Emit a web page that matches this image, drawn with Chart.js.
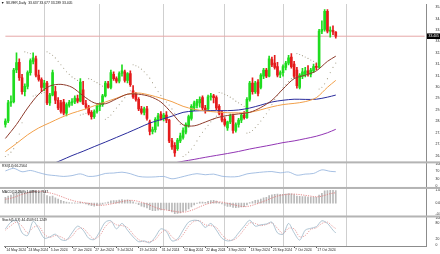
<!DOCTYPE html>
<html>
<head>
<meta charset="utf-8">
<script src="https://cdn.jsdelivr.net/npm/chart.js@4.4.1/dist/chart.umd.min.js"></script>
<style>
  html, body { margin: 0; padding: 0; background: #fff; }
  #chart { display: block; }
</style>
</head>
<body>
<canvas id="chart" width="440" height="254"></canvas>
<script>
// ---- data ----
const slotCount = 152; // bar slots incl. the empty space on the right
const dateTicks = ['14 May 2024', '24 May 2024', '5 Jun 2024', '17 Jun 2024', '27 Jun 2024', '9 Jul 2024',
  '19 Jul 2024', '31 Jul 2024', '12 Aug 2024', '22 Aug 2024', '3 Sep 2024', '13 Sep 2024', '25 Sep 2024',
  '7 Oct 2024', '17 Oct 2024'];
const tickEvery = 8;
const monthStarts = [14, 34, 57, 79, 100, 123];

const opens = [28.30, 28.50, 29.55, 29.62, 31.45, 31.90, 31.00, 30.20, 30.50, 31.30,
  31.95, 32.10, 31.15, 30.90, 30.45, 30.70, 29.55, 30.00, 30.20, 29.70,
  29.55, 29.60, 28.95, 29.40, 29.55, 29.60, 29.80, 29.65, 30.30, 29.50,
  29.30, 29.00, 28.75, 29.05, 29.35, 29.45, 29.95, 30.65, 30.45, 31.20,
  30.95, 30.80, 31.25, 31.35, 30.85, 31.25, 30.25, 30.05, 29.75, 29.20,
  29.00, 29.20, 28.45, 27.90, 28.00, 28.55, 28.90, 28.65, 28.85, 28.55,
  27.35, 27.10, 26.90, 27.35, 27.55, 27.85, 28.25, 28.65, 29.25, 29.40,
  29.55, 29.85, 29.25, 29.20, 29.90, 29.95, 29.85, 29.35, 28.95, 28.60,
  28.10, 28.45, 28.80, 27.95, 28.30, 28.55, 28.85, 28.70, 29.75, 30.70,
  30.20, 30.75, 30.45, 31.10, 31.45, 31.10, 32.05, 31.85, 31.65, 31.20,
  31.30, 31.60, 31.85, 32.20, 31.80, 31.45, 30.45, 31.10, 31.20, 31.40,
  31.20, 31.40, 31.65, 31.60, 33.70, 33.80, 34.85, 33.70, 33.75, 33.637];
const highs = [28.62, 29.70, 29.95, 31.55, 32.45, 32.10, 31.20, 30.65, 31.40, 32.10,
  32.45, 32.25, 31.45, 31.00, 30.85, 30.80, 30.10, 31.45, 30.50, 29.85,
  29.70, 29.75, 29.55, 29.70, 29.80, 29.95, 30.00, 30.95, 30.80, 29.70,
  29.40, 29.10, 29.15, 29.45, 29.55, 30.05, 30.80, 30.80, 31.45, 31.35,
  31.05, 31.35, 31.75, 31.45, 31.30, 31.40, 30.55, 30.15, 29.85, 29.35,
  29.30, 29.35, 28.55, 28.15, 28.70, 28.95, 29.05, 28.95, 29.05, 28.60,
  27.50, 27.25, 27.50, 27.80, 28.10, 28.40, 28.85, 29.45, 29.65, 29.75,
  29.90, 29.95, 29.40, 30.00, 30.10, 30.05, 29.95, 29.45, 29.10, 28.70,
  28.50, 28.90, 28.90, 28.40, 28.65, 28.95, 29.05, 29.85, 30.80, 31.00,
  30.80, 30.90, 31.25, 31.55, 31.55, 32.25, 32.20, 32.30, 31.90, 31.40,
  31.75, 31.95, 32.30, 32.40, 31.95, 31.60, 31.25, 31.55, 31.60, 31.70,
  31.55, 31.80, 31.85, 33.80, 34.30, 34.95, 34.95, 33.95, 34.00, 33.677];
const lows = [28.15, 28.40, 29.35, 29.55, 31.30, 30.85, 30.05, 29.95, 30.35, 31.15,
  31.80, 31.05, 30.80, 30.20, 30.25, 29.45, 29.40, 29.95, 29.50, 29.15,
  28.95, 28.85, 28.80, 29.30, 29.40, 29.50, 29.55, 29.60, 29.45, 29.20,
  28.85, 28.60, 28.65, 28.95, 29.10, 29.35, 29.90, 30.40, 30.35, 30.85,
  30.70, 30.70, 31.10, 30.75, 30.70, 30.50, 29.80, 29.65, 29.10, 28.90,
  28.85, 28.55, 27.70, 27.75, 27.85, 28.20, 28.55, 28.50, 28.40, 27.25,
  26.85, 26.45, 26.80, 27.25, 27.45, 27.75, 28.15, 28.55, 29.10, 29.25,
  29.30, 29.15, 28.95, 29.10, 29.70, 29.55, 29.15, 28.85, 28.45, 28.20,
  27.95, 28.35, 27.80, 27.85, 28.15, 28.40, 28.60, 28.65, 29.65, 30.05,
  30.10, 29.95, 30.35, 30.95, 31.00, 31.05, 31.65, 31.50, 31.05, 31.00,
  31.10, 31.45, 31.75, 31.55, 31.00, 30.40, 30.35, 30.95, 31.05, 31.10,
  31.05, 31.30, 31.45, 31.55, 33.55, 33.70, 33.60, 33.35, 33.50, 33.289];
const closes = [28.50, 29.55, 29.62, 31.45, 31.88, 31.00, 30.20, 30.50, 31.30, 32.00,
  32.15, 31.15, 30.90, 30.45, 30.70, 29.55, 30.00, 31.30, 29.70, 29.25,
  29.05, 28.95, 29.45, 29.58, 29.62, 29.82, 29.65, 30.75, 29.50, 29.30,
  28.95, 28.75, 29.05, 29.35, 29.45, 29.95, 30.70, 30.45, 31.30, 30.95,
  30.80, 31.25, 31.40, 30.85, 31.25, 30.60, 29.90, 29.75, 29.20, 29.00,
  29.20, 28.65, 27.90, 28.00, 28.60, 28.80, 28.65, 28.85, 28.55, 27.35,
  27.00, 26.65, 27.40, 27.65, 27.95, 28.30, 28.75, 29.35, 29.55, 29.65,
  29.75, 29.25, 29.10, 29.90, 29.95, 29.85, 29.25, 28.95, 28.55, 28.30,
  28.45, 28.80, 27.95, 28.30, 28.55, 28.85, 28.70, 29.75, 30.70, 30.20,
  30.70, 30.10, 31.15, 31.45, 31.10, 32.10, 31.75, 31.60, 31.15, 31.30,
  31.65, 31.85, 32.15, 31.65, 31.10, 30.55, 31.15, 31.35, 31.40, 31.25,
  31.45, 31.65, 31.60, 33.70, 33.80, 34.85, 33.70, 33.75, 33.65, 33.405];

// moving averages, read every 4 bars (last point at the last bar)
const maBars = [0, 4, 8, 12, 16, 20, 24, 28, 32, 36, 40, 44, 48, 52, 56, 60, 64, 68, 72, 76,
  80, 84, 88, 92, 96, 100, 104, 108, 112, 116, 119];
const maBrown = [27.49, 28.30, 29.25, 30.05, 30.52, 30.62, 30.45, 29.96, 29.55, 29.50, 29.78, 30.05,
  30.05, 29.92, 29.60, 28.95, 28.28, 28.22, 28.44, 28.68, 28.82, 28.91, 29.00, 29.28, 29.70, 30.35,
  30.95, 31.15, 31.40, 31.95, 32.25];
const maOrange = [26.73, 27.20, 27.70, 28.10, 28.40, 28.70, 28.95, 29.15, 29.38, 29.60, 29.82, 30.05,
  30.12, 30.00, 29.82, 29.62, 29.35, 29.18, 29.08, 29.02, 28.98, 28.97, 29.00, 29.15, 29.32, 29.45,
  29.52, 29.62, 29.85, 30.45, 30.85];
const maBlue = [null, null, null, null, 25.95, 26.22, 26.50, 26.75, 27.02, 27.28, 27.55, 27.82,
  28.10, 28.38, 28.58, 28.78, 29.00, 29.08, 29.10, 29.10, 29.10, 29.14, 29.25, 29.42, 29.60, 29.70,
  29.76, 29.75, 29.76, 29.88, 30.00];
const maPurple = [null, null, null, null, null, null, null, null, null, null, null, null, null, null,
  null, 26.05, 26.17, 26.28, 26.40, 26.51, 26.62, 26.74, 26.88, 27.00, 27.12, 27.25, 27.35, 27.48,
  27.62, 27.82, 28.02];

const sarDots = [26.45, 26.55, 26.70, 26.90, 27.25, 27.75, 28.40, 32.50, 32.45, 32.40,
  29.95, 30.00, 30.05, 30.10, 30.15, 32.50, 32.42, 32.30, 32.15, 31.95,
  31.75, 31.55, 31.35, 31.20, 31.05, 30.95, 30.85, 28.85, 28.90, 28.95,
  30.95, 30.90, 30.80, 30.72, 30.62, 30.52, 28.60, 28.70, 28.85, 29.05,
  29.25, 29.45, 29.65, 29.85, 30.05, 30.25, 31.75, 31.70, 31.62, 31.50,
  31.35, 31.18, 30.98, 30.72, 30.45, 30.20, 29.98, 29.78, 29.60, 29.43,
  29.20, 28.95, 28.60, 28.30, 26.45, 26.55, 26.70, 26.88, 27.10, 27.35,
  27.60, 27.85, 28.05, 28.25, 28.45, 28.62, 28.78, 30.15, 30.12, 30.05,
  29.97, 29.88, 29.78, 29.65, 29.55, 29.45, 29.35, 27.80, 27.85, 27.95,
  28.12, 28.30, 28.50, 28.70, 28.92, 29.15, 29.45, 29.75, 30.00, 30.22,
  30.42, 30.60, 30.78, 30.95, 30.98, 32.40, 32.35, 32.28, 32.20, 32.12,
  32.03, 31.95, 31.87, 30.35, 30.45, 30.65, 30.95, 31.30, 31.60, 31.85];

const priceTicks = [35.080, 34.420, 33.760, 33.100, 32.440, 31.780, 31.120, 30.460, 29.800,
  29.140, 28.480, 27.820, 27.160, 26.500];
const priceMin = 26.107;
const priceMax = 35.268;
const bid = 33.405;
const titleText = 'SILVER,Daily  33.637 33.677 33.289 33.405';

// RSI(14), read every 3 bars
const rsiStep = 3;
const rsiValues = [70, 82, 66, 72, 62, 52, 48, 44, 48, 56, 44, 47, 58, 60, 64, 57, 44, 41, 42, 44,
  33, 40, 50, 57, 52, 55, 45, 42, 44, 56, 61, 65, 67, 61, 65, 50, 55, 58, 75, 68];
const rsiLast = 66.2564;
const rsiTicks = [100, 70, 30, 0];

// MACD(12,26,9): main as histogram, signal as dotted line
const macdMain = [0.45, 0.55, 0.62, 0.78, 0.92, 0.98,
  0.93, 0.88, 0.88, 0.92, 0.98, 0.95, 0.88, 0.78,
  0.72, 0.58, 0.50, 0.55, 0.42, 0.32, 0.22,
  0.14, 0.08, 0.05, 0.03, 0.02, 0.00, 0.08,
  0.00, -0.06, -0.14, -0.20, -0.22, -0.20, -0.16, -0.08,
  0.03, 0.08, 0.18, 0.20, 0.20, 0.24, 0.28, 0.24, 0.25, 0.20,
  0.10, 0.00, -0.12, -0.22, -0.28, -0.36, -0.50, -0.58,
  -0.58, -0.54, -0.52, -0.48, -0.48, -0.58, -0.68, -0.80, -0.78,
  -0.74, -0.66, -0.56, -0.44, -0.28, -0.14, -0.02, 0.08, 0.08, 0.06,
  0.14, 0.20, 0.22, 0.16, 0.06, -0.06, -0.18, -0.24,
  -0.25, -0.33, -0.34, -0.32, -0.28, -0.26, -0.14, 0.04,
  0.13, 0.22, 0.24, 0.32, 0.42, 0.45, 0.58, 0.64, 0.68, 0.69, 0.68,
  0.68, 0.70, 0.74, 0.72, 0.66, 0.55, 0.52, 0.50, 0.50, 0.47, 0.46, 0.46, 0.45,
  0.62, 0.76, 0.95, 0.96, 0.98, 0.99, 0.97];
const macdSignal = [0.30, 0.34, 0.38, 0.44, 0.52, 0.60, 0.68, 0.74, 0.79, 0.84, 0.88, 0.91, 0.92, 0.91,
  0.88, 0.84, 0.79, 0.74, 0.68, 0.60, 0.52, 0.44, 0.36, 0.28, 0.22, 0.16, 0.11, 0.08,
  0.05, 0.02, -0.02, -0.06, -0.10, -0.14, -0.16, -0.16, -0.14, -0.10, -0.06, -0.02, 0.03, 0.08, 0.13, 0.17, 0.20, 0.22,
  0.21, 0.18, 0.13, 0.07, 0.00, -0.07, -0.15, -0.24, -0.32, -0.40, -0.46, -0.50, -0.53, -0.56, -0.59, -0.63, -0.67,
  -0.69, -0.69, -0.67, -0.62, -0.55, -0.47, -0.38, -0.28, -0.19, -0.11, -0.04, 0.02, 0.07, 0.10, 0.10, 0.08, 0.04, -0.01,
  -0.06, -0.11, -0.16, -0.21, -0.25, -0.27, -0.26, -0.22, -0.16, -0.09, -0.02, 0.06, 0.14, 0.22, 0.31, 0.40, 0.48, 0.55, 0.60,
  0.64, 0.67, 0.69, 0.70, 0.70, 0.68, 0.66, 0.63, 0.60, 0.57, 0.54, 0.51, 0.49, 0.50, 0.54, 0.60, 0.67, 0.73, 0.77, 0.80];
const macdTicks = [1.0176, 0, -0.8334];
const macdTitle = 'MACD(12,26,9) 1.0896 0.7647';

// Stochastic(5,3,3), read every 2 bars
const stochStep = 2;
const stochMain = [60, 85, 92, 45, 35, 88, 60, 25, 30, 40, 20, 18, 45, 70, 55, 25, 20, 50, 85, 90,
  60, 80, 55, 30, 12, 15, 8, 30, 60, 50, 15, 22, 55, 85, 92, 88, 65, 80, 55, 25,
  15, 20, 45, 70, 92, 70, 75, 78, 85, 45, 40, 80, 45, 18, 55, 62, 68, 90, 80, 55];
const stochSignal = [55, 72, 85, 70, 45, 65, 70, 40, 28, 35, 30, 20, 32, 58, 62, 40, 22, 35, 68, 86,
  75, 72, 65, 40, 20, 12, 12, 20, 45, 55, 30, 18, 38, 70, 88, 90, 75, 72, 65, 38,
  20, 18, 32, 58, 82, 80, 72, 76, 82, 62, 42, 62, 60, 30, 35, 58, 64, 80, 85, 68];
const stochLast = [44.4509, 61.1249];
const stochTicks = [100, 80, 20, 0];

// ---- build chart data ----
const lastBar = closes.length - 1;
const labels = Array.from({length: slotCount}, (_, i) => String(i));
const bull = '#1fdc1f', bear = '#e41b1b';
const candleColors = closes.map((c, i) => c >= opens[i] ? bull : bear);

function spread(idx, vals) {
  const out = new Array(lastBar + 1).fill(null);
  idx.forEach((b, k) => { out[b] = vals[k]; });
  return out;
}
function stepped(step, vals, last) {
  const out = new Array(lastBar + 1).fill(null);
  vals.forEach((v, k) => { out[k * step] = v; });
  out[lastBar] = last;
  return out;
}
const bidLine = new Array(slotCount).fill(null);
bidLine[0] = bid; bidLine[slotCount - 1] = bid;

const font = { family: '"Liberation Sans", Arial, sans-serif', size: 3.4 };
const axisW = 14;

function paneAxis(weight, min, max, ticks, fmt) {
  return {
    position: 'right', stack: 'panes', stackWeight: weight, min: min, max: max,
    afterBuildTicks: sc => { sc.ticks = ticks.map(v => ({ value: v })); },
    afterFit: sc => { sc.width = axisW; },
    grid: { display: false },
    border: { display: true, color: '#8c8c8c', width: 1 },
    ticks: { font: font, color: '#222', padding: 1.5, autoSkip: false, callback: fmt }
  };
}

const lineBase = { type: 'line', pointRadius: 0, borderWidth: 1, spanGaps: true, tension: 0.3 };

const overlay = {
  id: 'overlay',
  afterDraw(chart) {
    const ctx = chart.ctx, s = chart.scales;
    ctx.save();
    ctx.fillStyle = '#b4b4b4';
    [s.y, s.yRsi, s.yMacd].forEach(sc => ctx.fillRect(0, sc.bottom - 1, 440, 2));
    ctx.font = font.size + 'px ' + font.family;
    ctx.textBaseline = 'top';
    ctx.fillStyle = '#111';
    ctx.fillText('\u25BC', 1, 1.2);
    ctx.fillText(titleText, 6, 1.2);
    ctx.fillText('RSI(14) ' + rsiLast.toFixed(4), 2, s.yRsi.top + 2);
    ctx.fillText(macdTitle, 2, s.yMacd.top + 2);
    ctx.fillText('Stoch(5,3,3) ' + stochLast[0].toFixed(4) + ' ' + stochLast[1].toFixed(4), 2, s.yStoch.top + 2);
    const py = s.y.getPixelForValue(bid);
    ctx.fillStyle = '#000';
    ctx.fillRect(s.y.left + 1, py - 2.8, axisW - 1, 5.6);
    ctx.fillStyle = '#fff';
    ctx.textBaseline = 'middle';
    ctx.fillText(bid.toFixed(3), s.y.left + 2.5, py + 0.2);
    ctx.restore();
  }
};

new Chart(document.getElementById('chart'), {
  data: {
    labels: labels,
    datasets: [
      { ...lineBase, label: 'MA fast', data: spread(maBars, maBrown), borderColor: '#8e3b2c', yAxisID: 'y', order: 0 },
      { ...lineBase, label: 'MA mid', data: spread(maBars, maOrange), borderColor: '#f2a04a', yAxisID: 'y', order: 0 },
      { ...lineBase, label: 'MA slow', data: spread(maBars, maBlue), borderColor: '#2a2c9c', yAxisID: 'y', order: 0 },
      { ...lineBase, label: 'MA long', data: spread(maBars, maPurple), borderColor: '#9236b4', yAxisID: 'y', order: 0 },
      { type: 'line', label: 'SAR', data: sarDots, showLine: false, pointRadius: 0.55, pointBorderWidth: 0,
        pointBackgroundColor: '#a39c86', yAxisID: 'y', order: 1 },
      { type: 'bar', label: 'wick', data: lows.map((l, i) => [l, highs[i]]), backgroundColor: candleColors,
        barThickness: 1, grouped: false, yAxisID: 'y', order: 3 },
      { type: 'bar', label: 'body', data: opens.map((o, i) => [o, closes[i]]), backgroundColor: candleColors,
        barThickness: 2, minBarLength: 1, grouped: false, yAxisID: 'y', order: 2 },
      { ...lineBase, label: 'bid', data: bidLine, borderColor: '#e6a8a8', tension: 0, yAxisID: 'y', order: 4 },
      { ...lineBase, label: 'RSI', data: stepped(rsiStep, rsiValues, rsiLast), borderColor: '#8fb0dc',
        borderWidth: 0.8, yAxisID: 'yRsi' },
      { type: 'bar', label: 'MACD', data: macdMain, backgroundColor: '#b9b9b9', barThickness: 1,
        grouped: false, yAxisID: 'yMacd', order: 2 },
      { ...lineBase, label: 'Signal', data: macdSignal, borderColor: '#e07070', borderWidth: 0.8,
        borderDash: [1.2, 1.2], tension: 0, yAxisID: 'yMacd', order: 1 },
      { ...lineBase, label: 'Stoch', data: stepped(stochStep, stochMain, stochLast[0]), borderColor: '#9cb6c8',
        borderWidth: 0.8, yAxisID: 'yStoch' },
      { ...lineBase, label: 'Stoch signal', data: stepped(stochStep, stochSignal, stochLast[1]), borderColor: '#e38c8c',
        borderWidth: 0.8, borderDash: [1.2, 1.2], yAxisID: 'yStoch' }
    ]
  },
  options: {
    responsive: false,
    devicePixelRatio: 1,
    animation: false,
    layout: { padding: 0 },
    plugins: { legend: { display: false }, tooltip: { enabled: false } },
    scales: {
      x: {
        type: 'category', offset: true,
        afterFit: sc => { sc.height = 8; },
        grid: {
          offset: false, drawTicks: true, tickLength: 2, lineWidth: 1,
          color: ctx => monthStarts.includes(ctx.index) ? '#cfcfcf' : 'rgba(0,0,0,0)',
          tickColor: ctx => (ctx.index % tickEvery === 0 && ctx.index <= lastBar) ? '#555' : 'rgba(0,0,0,0)'
        },
        border: { display: true, color: '#8c8c8c' },
        ticks: {
          autoSkip: false, maxRotation: 0, minRotation: 0, align: 'start', padding: 0,
          font: font, color: '#222',
          callback: (v, i) => (i % tickEvery === 0 && i / tickEvery < dateTicks.length) ? ' ' + dateTicks[i / tickEvery] : ''
        }
      },
      y: paneAxis(161, priceMin, priceMax, priceTicks, v => v.toFixed(3)),
      yRsi: paneAxis(26, -10, 110, rsiTicks, v => String(v)),
      yMacd: paneAxis(29, -1.022, 1.169, macdTicks, v => v === 0 ? '0.00' : v.toFixed(4)),
      yStoch: paneAxis(30, -4, 106, stochTicks, v => String(v))
    }
  },
  plugins: [overlay]
});
</script>
</body>
</html>
